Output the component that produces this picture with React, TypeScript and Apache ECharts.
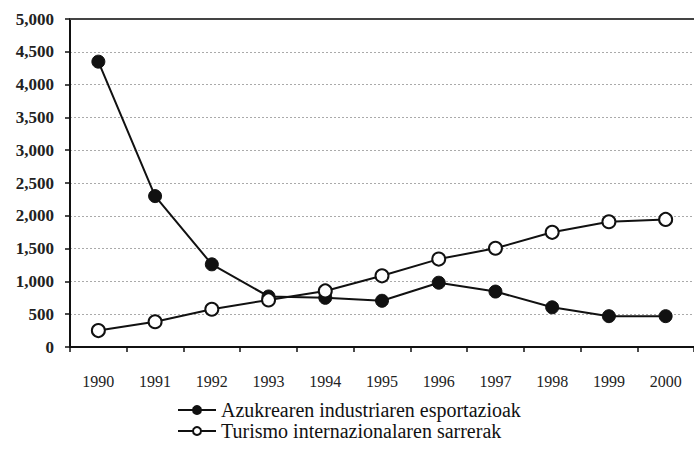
import React, { useEffect, useRef } from "react";
import * as echarts from "echarts";

const years = ["1990", "1991", "1992", "1993", "1994", "1995", "1996", "1997", "1998", "1999", "2000"];
const sugarExports = [4350, 2300, 1260, 770, 750, 705, 980, 845, 605, 470, 470];
const tourismIncome = [250, 385, 575, 718, 855, 1085, 1340, 1505, 1748, 1910, 1945];
const seriesNames = ["Azukrearen industriaren esportazioak", "Turismo internazionalaren sarrerak"];

export default function App() {
  const ref = useRef<HTMLDivElement>(null);
  useEffect(() => {
    if (!ref.current) return;
    const chart = echarts.init(ref.current, null, { renderer: "svg" });
    const font = "Liberation Serif";
    chart.setOption({
      animation: false,
      backgroundColor: "#ffffff",
      textStyle: { fontFamily: font },
      grid: { left: 70, top: 19, bottom: 108, right: -12, containLabel: false },
      legend: {
        orient: "vertical",
        left: 172,
        top: 395,
        itemWidth: 38,
        itemHeight: 10,
        itemGap: 1,
        textStyle: { fontFamily: font, fontSize: 20, color: "#111" },
        data: seriesNames,
      },
      xAxis: {
        type: "category",
        data: years,
        boundaryGap: true,
        axisLine: { lineStyle: { color: "#111", width: 2 } },
        axisTick: { show: true, length: 5, lineStyle: { color: "#111", width: 1.5 } },
        axisLabel: { fontFamily: font, fontSize: 16, color: "#222", margin: 26 },
        splitLine: { show: false },
      },
      yAxis: {
        type: "value",
        min: 0,
        max: 5000,
        interval: 500,
        axisLine: { show: true, lineStyle: { color: "#111", width: 2 } },
        axisTick: { show: true, length: 5, lineStyle: { color: "#111", width: 1.5 } },
        axisLabel: {
          fontFamily: font,
          fontSize: 17,
          fontWeight: "bold",
          color: "#222",
          margin: 16,
          formatter: (v: number) => v.toLocaleString("en-US"),
        },
        splitLine: {
          show: true,
          lineStyle: { color: "#aaa", type: [2, 2], width: 1 },
        },
      },
      series: [
        {
          name: seriesNames[0],
          type: "line",
          data: sugarExports,
          symbol: "circle",
          symbolSize: 13,
          lineStyle: { color: "#111", width: 2 },
          itemStyle: { color: "#111", borderColor: "#111", borderWidth: 1 },
          z: 2,
          markLine: {
            silent: true,
            symbol: "none",
            label: { show: false },
            lineStyle: { color: "#444", type: "solid", width: 2 },
            data: [{ yAxis: 5000 }],
          },
        },
        {
          name: seriesNames[1],
          type: "line",
          data: tourismIncome,
          symbol: "circle",
          symbolSize: 13,
          lineStyle: { color: "#111", width: 2 },
          itemStyle: { color: "#ffffff", borderColor: "#111", borderWidth: 2 },
          z: 3,
        },
      ],
    });
    return () => chart.dispose();
  }, []);
  return (
    <div
      ref={ref}
      style={{ position: "absolute", left: 0, top: 0, width: 694, height: 455, overflow: "hidden" }}
    />
  );
}
